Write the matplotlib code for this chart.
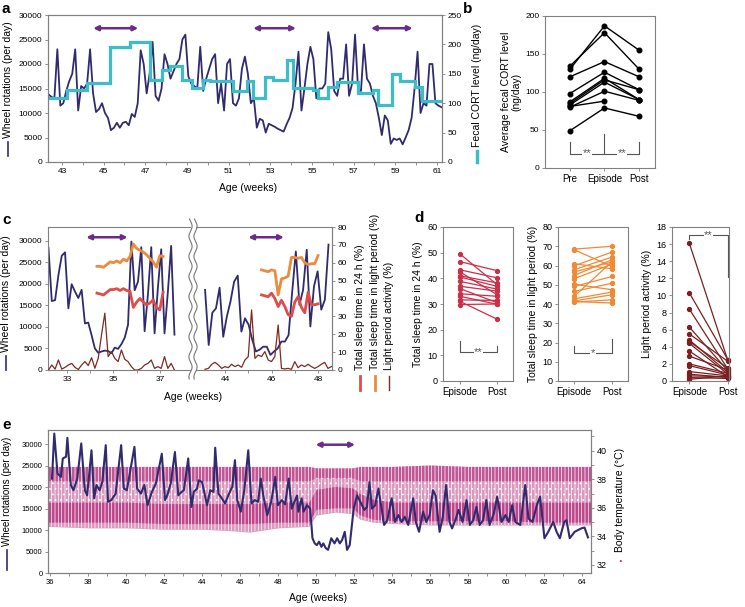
import numpy as np
import matplotlib
matplotlib.use('Agg')
import matplotlib.pyplot as plt
from matplotlib.lines import Line2D

plt.rcParams['font.family'] = ['Liberation Sans', 'DejaVu Sans']
plt.rcParams['hatch.linewidth'] = 0.5

# ---------------- data ----------------
# panel a: daily wheel rotations and fecal CORT (step) level
wheel_a = [13800, 13300, 13000, 23000, 11500, 12000, 14500, 16500, 18000, 23000,
           10500, 15500, 15000, 16000, 23000, 14000, 10200, 10800, 12000, 10000,
           9000, 6500, 7000, 8000, 7000, 8000, 8200, 7500, 9800, 9200,
           12000, 22800, 20000, 14000, 18000, 24500, 13500, 12500, 15000, 22000,
           20000, 17000, 18500, 20000, 21000, 25000, 26000, 17500, 16000, 15500,
           15000, 23500, 14500, 17000, 19000, 21000, 22000, 12000, 16000, 10500,
           20000, 21000, 12000, 11500, 13000, 19000, 21500, 18000, 12000, 13000,
           7000, 8800, 8500, 6000, 7800, 7500, 7200, 6800, 6500, 6200,
           7700, 9000, 11000, 16000, 22500, 10500, 15000, 20000, 23500, 21000,
           13000, 15000, 15000, 16000, 26500, 23000, 14500, 13500, 17000, 17000,
           24000, 13500, 16000, 26000, 15000, 14500, 24000, 17000, 16000, 13500,
           12000, 9000, 5500, 9500, 8500, 3700, 4800, 4500, 4800, 3600,
           5000, 6500, 9000, 15000, 22500, 10000, 12000, 11500, 20000, 20000,
           12000, 11500, 11200]
age_a = np.linspace(42.35, 61.21, len(wheel_a))
cort_edges_a = [42.34, 43.22, 44.22, 45.30, 46.26, 47.22, 47.78, 48.18, 48.74, 49.22,
                49.78, 50.10, 51.22, 51.86, 52.18, 52.74, 53.14, 53.78, 54.10, 55.06,
                55.30, 55.78, 56.18, 57.22, 57.94, 58.18, 58.82, 59.22, 59.94, 60.26, 61.22]
cort_a = [108, 123, 134, 195, 204, 139, 156, 163, 140, 126,
          140, 137, 120, 137, 109, 145, 140, 173, 126, 123,
          109, 128, 136, 117, 123, 97, 149, 137, 128, 103]
episodes_a = [(44.5, 46.66), (52.18, 54.23), (57.83, 59.83)]

# panel b: average fecal CORT per mouse
groups_b = ['Pre', 'Episode', 'Post']
pre_b = [130, 134, 120, 98, 87, 85, 83, 80, 81, 49]
episode_b = [187, 178, 140, 126, 118, 116, 113, 101, 88, 79]
post_b = [155, 130, 120, 103, 90, 103, 90, 89, np.nan, 68]

# panel c: two segments (before / after axis break)
wheel_c1 = [28300, 16000, 16200, 22000, 26500, 27300, 14300, 19900, 18200, 16700,
            18600, 10800, 11000, 8100, 5000, 4000, 4300, 4500, 4400, 3900,
            5200, 4900, 6000, 7500, 10500, 29800, 18500, 20500, 28500, 9000,
            17500, 28500, 8500, 19000, 28000, 8500, 18000, 28800, 8200]
age_c1 = np.linspace(32.2, 37.63, len(wheel_c1))
activity_c1 = [0, 2.8, 0.5, 5.6, 0.5, 1.5, 2.8, 3.7, 1.5, 0.3,
               2.8, 4.7, 2.5, 6.9, 1.0, 6.5, 19.6, 31.8, 7.5, 10.3,
               6.5, 4.7, 11.2, 6.0, 4.7, 1.9, 0, 0, 0.9, 2.8,
               3.7, 5.6, 0.9, 1.9, 0.9, 7.5, 0.9, 3.7, 0]
sleep_light_c1 = [58, 58, 57.5, 59, 60.5, 60, 61, 60, 62, 61, 63.5,
                  70.5, 68, 67, 66, 64.5, 62.5, 60.5, 57.5, 64, 63.5]
sleep_24h_c1 = [43, 42.5, 42, 43.5, 45, 45, 45.5, 44.5, 45.5, 44.5, 44,
                35, 38, 40, 38, 36.4, 37.5, 39.2, 35, 33.6, 43.5]
age_sleep_c1 = np.linspace(34.29, 37.14, len(sleep_light_c1))

wheel_c2 = [18600, 5800, 13300, 14300, 19100, 7700, 12400, 15900, 20500, 21900,
            8900, 12000, 10500, 7000, 4300, 4700, 5400, 5400, 3500, 4300,
            5000, 6600, 6600, 8100, 18200, 27500, 15100, 18600, 27900, 10100,
            19400, 22900, 14000, 16300, 29100]
age_c2 = np.linspace(43.14, 48.45, len(wheel_c2))
activity_c2 = [0.4, 0.9, 3.2, 4.3, 2.8, 0.9, 1.9, 1.3, 3.2, 1.9,
               2.8, 1.5, 5.6, 7.5, 33.6, 6.5, 8.4, 7.5, 10.3, 5.6,
               4.7, 7.5, 25.2, 0.9, 0.6, 0.9, 0.4, 4.7, 1.3, 2.8,
               1.9, 3.2, 1.9, 0.9, 1.9, 3.2, 4.3, 0.9, 1.9]
age_act_c2 = np.linspace(43.14, 48.57, len(activity_c2))
sleep_light_c2 = [56, 55.5, 55, 56, 55.5, 42, 51, 51.5, 52.5, 63,
                  63, 62.5, 63, 60, 59, 59.5, 59.5, 64]
sleep_24h_c2 = [42, 41.5, 41, 43, 40, 35.5, 39, 35.5, 31, 30,
                38, 41, 35, 32, 43.5, 36.5, 36.5, 37]
age_sleep_c2 = np.linspace(45.57, 48.0, len(sleep_light_c2))
episodes_c = [(33.83, 35.61), (45.0, 46.53)]

# panel d: Episode vs Post per mouse
phases_d = ['Episode', 'Post']
sleep24_ep = [49.5, 46.5, 43.3, 42.5, 41.0, 40.5, 38.8, 36.9, 36.0, 34.0, 33.0, 31.6, 31.0, 29.8]
sleep24_post = [37.5, 43.0, 40.2, 33.6, 38.2, 36.9, 35.8, 35.0, 30.5, 33.0, 29.9, 31.4, 24.1, 30.0]
sleeplight_ep = [68.2, 68.5, 60.9, 59.8, 57.8, 56.6, 54.8, 53.1, 50.3, 49.1, 46.5, 43.9, 42.7, 41.6, 41.0, 41.3]
sleeplight_post = [59.5, 70.0, 58.3, 67.0, 64.4, 61.8, 63.0, 60.7, 47.4, 54.3, 50.8, 62.0, 46.2, 44.8, 42.2, 40.5]
lightact_ep = [16.1, 10.3, 8.4, 6.3, 5.5, 4.8, 4.6, 4.4, 3.5, 2.9, 2.0, 1.8, 1.1, 0.8, 0.6, 0.4, 0.2]
lightact_post = [2.4, 2.5, 1.4, 1.2, 2.3, 1.0, 1.5, 0.8, 0.5, 1.3, 0.9, 0.7, 0.6, 0.4, 0.5, 0.3, 0.6]

# panel e: wheel rotations (peaks / troughs) and body temperature envelope
age_e = [36.09, 36.21, 36.38, 36.56, 36.66, 36.83, 36.90, 37.08, 37.22, 37.42,
         37.63, 37.82, 37.94, 38.17, 38.31, 38.43, 38.60, 38.74, 38.92, 39.04,
         39.21, 39.44, 39.73, 39.87, 40.03, 40.17, 40.43, 40.57, 40.77, 40.95,
         41.12, 41.35, 41.56, 41.87, 42.04, 42.16, 42.34, 42.56, 42.74, 42.91,
         43.03, 43.26, 43.43, 43.55, 43.73, 43.81, 43.99, 44.25, 44.42, 44.59,
         44.68, 44.85, 45.03, 45.20, 45.37, 45.58, 45.72, 45.84, 46.03, 46.21,
         46.42, 46.59, 46.76, 46.94, 47.08, 47.22, 47.42, 47.63, 47.84,
         47.98, 48.19, 48.36, 48.55, 48.71, 48.85, 48.99, 49.06, 49.23, 49.33,
         49.51, 49.68, 49.80, 49.92, 50.03, 50.15, 50.27, 50.37, 50.5, 50.62,
         50.79, 50.96, 51.1, 51.24, 51.36, 51.5, 51.62, 51.76, 51.97, 52.15,
         52.32, 52.53, 52.67, 52.8, 52.93, 53.1, 53.27, 53.45, 53.57, 53.74,
         53.97, 54.14, 54.32, 54.49, 54.66, 54.84, 55.1, 55.24, 55.41, 55.62,
         55.79, 55.97, 56.14, 56.28, 56.49, 56.66, 56.83, 57.01, 57.15, 57.35,
         57.49, 57.7, 57.91, 58.08, 58.26, 58.43, 58.6, 58.78, 58.95, 59.12,
         59.35, 59.52, 59.75, 59.96, 60.13, 60.31, 60.48, 60.74, 61.0, 61.17,
         61.38, 61.61, 61.78, 62.01, 62.21, 62.47, 62.65, 62.82, 63.05, 63.17,
         63.34, 63.6, 63.78, 63.95, 64.12, 64.3]
wheel_e = [22000, 32500, 23200, 22400, 26700, 27100, 31500, 20500, 19300, 22000,
           30200, 19300, 18100, 28600, 17400, 20500, 19300, 21200, 29800, 16600,
           17000, 18500, 29800, 19700, 19300, 22800, 29400, 19700, 18500, 20500,
           15800, 18900, 20900, 27800, 17000, 18100, 20900, 28200, 18100, 18900,
           19300, 26700, 15400, 18900, 19700, 21600, 21200, 15800, 19300, 18900,
           29200, 18500, 17400, 16200, 18100, 20100, 26300, 17000, 14300, 19300,
           28600, 16200, 17000, 16600, 22000, 17800, 13500, 16600, 22400,
           15800, 17000, 16000, 22000, 15000, 16600, 18100, 14300, 17400, 14300,
           15800, 15000, 8100, 6900, 6500, 7300, 6100, 6900, 5800, 5400,
           8100, 6900, 8100, 6900, 7700, 9600, 5400, 6500, 15000, 18100,
           16600, 14700, 15400, 21200, 15000, 15800, 19700, 14700, 11200, 12300,
           17400, 11900, 13500, 11900, 13100, 11200, 17400, 11900, 9600, 14300,
           11900, 13500, 19300, 18100, 9600, 13100, 20500, 11900, 10400, 12700,
           14700, 11900, 17000, 11200, 12300, 15400, 11200, 12300, 17000, 11200,
           13900, 17800, 11900, 13500, 11900, 15800, 11900, 11200, 20500, 12700,
           11900, 15800, 17800, 8100, 9600, 11900, 9600, 8100, 11900, 12300,
           8100, 9600, 10000, 10400, 10600, 8300]
temp_wk = [35.88, 38, 40, 42, 44, 45.5, 46.5, 48, 49.6, 50.0,
           51.0, 51.9, 52.3, 53.0, 54, 56, 58, 60, 62, 64.46]
temp_hi = [38.9, 38.9, 38.9, 38.9, 38.9, 38.9, 38.9, 38.9, 38.9, 38.8,
           38.8, 38.8, 38.9, 38.9, 38.9, 39.0, 38.9, 38.9, 38.9, 38.9]
temp_lo = [34.7, 34.6, 34.6, 34.5, 34.5, 34.4, 34.3, 34.6, 34.7, 35.5,
           35.7, 35.6, 35.2, 35.0, 34.9, 34.8, 34.8, 34.8, 34.8, 34.8]
temp_day_lo = [35.0, 35.0, 35.0, 34.9, 34.9, 34.9, 34.9, 35.0, 35.0, 35.9,
               36.0, 36.0, 35.5, 35.2, 35.1, 35.1, 35.1, 35.1, 35.0, 35.0]
temp_day_hi = [36.4, 36.4, 36.4, 36.3, 36.3, 36.3, 36.3, 36.4, 36.4, 37.3,
               37.5, 37.4, 37.0, 36.6, 36.4, 36.4, 36.4, 36.4, 36.4, 36.4]
temp_night_lo = [37.9, 37.9, 37.9, 37.9, 37.9, 37.9, 37.9, 37.9, 37.9, 38.1,
                 38.1, 38.1, 37.9, 37.9, 37.9, 37.9, 37.9, 37.9, 37.9, 37.9]
episode_e = (49.97, 52.04)

# ---------------- style ----------------
NAVY = '#302b6f'
CYAN = '#3dbdc9'
PURPLE = '#6a2b8b'
ORANGE = '#ec8b3b'
RED = '#df4c4a'
BROWN = '#7b2c22'
D_RED = '#c9304a'
D_ORANGE = '#ee8a35'
D_BROWN = '#7a2020'
MAGENTA = '#b8327e'
SPINE = '#808080'
SIG = '#555555'

W, H = 745, 607
fig = plt.figure(figsize=(W / 100, H / 100), dpi=100)


def px_axes(x0, y0, x1, y1):
    return fig.add_axes([x0 / W, 1 - y1 / H, (x1 - x0) / W, (y1 - y0) / H])


def style(ax, ls=6):
    for s in ax.spines.values():
        s.set_color(SPINE)
        s.set_linewidth(0.8)
    ax.tick_params(colors=SPINE, labelcolor='black', labelsize=ls, length=2.5,
                   width=0.6, direction='out', pad=1.5)


def side_label(x, y_bottom, text, color, lw, dash=(5, 18), size=7.5, dot=False):
    fig.text(x / W, 1 - y_bottom / H, text, rotation=90, ha='center', va='bottom',
             fontsize=size)
    if dot:
        fig.text(x / W, 1 - (y_bottom + dash[0] + 3) / H, '.', color=color,
                 ha='center', va='center', fontsize=9, fontweight='bold')
    else:
        fig.add_artist(Line2D([x / W, x / W],
                              [1 - (y_bottom + dash[0]) / H, 1 - (y_bottom + dash[1]) / H],
                              transform=fig.transFigure, color=color, lw=lw))


def arrow(ax, x0, x1, y):
    ax.annotate('', xy=(x1, y), xytext=(x0, y),
                arrowprops=dict(arrowstyle='<|-|>', color=PURPLE, lw=1.8,
                                mutation_scale=7, shrinkA=0, shrinkB=0))


def bracket(ax, xs, ys, label, ty):
    ax.plot(xs, ys, color=SIG, lw=0.8, clip_on=False)
    if label:
        ax.text((xs[0] + xs[-1]) / 2, ty, label, ha='center', va='center', color=SIG,
                fontsize=8, bbox=dict(facecolor='white', edgecolor='none', pad=0.3))


def letter(x, y, s):
    fig.text(x / W, 1 - y / H, s, fontsize=11, fontweight='bold', va='center', ha='left')


# ---------------- panel a ----------------
ax_a = px_axes(48, 15, 442, 162)
ax_a.plot(age_a, wheel_a, color=NAVY, lw=1.3)
ax_a.set_xlim(42.33, 61.24)
ax_a.set_ylim(0, 30000)
ax_a.set_yticks(range(0, 30001, 5000))
ax_a.set_xticks(range(43, 62))
ax_a.set_xticklabels([str(w) if w % 2 else '' for w in range(43, 62)])
style(ax_a)
for s, e in episodes_a:
    arrow(ax_a, s, e, 27300)
ax_a2 = ax_a.twinx()
ax_a2.stairs(cort_a, cort_edges_a, color=CYAN, lw=2.3, baseline=None)
ax_a2.set_ylim(0, 250)
ax_a2.set_yticks(range(0, 251, 50))
style(ax_a2)
fig.text(248 / W, 1 - 188 / H, 'Age (weeks)', ha='center', va='center', fontsize=7.5)
side_label(8, 138, 'Wheel rotations (per day)', NAVY, 1.2, dash=(4, 18))
side_label(477, 147, 'Fecal CORT level (ng/day)', CYAN, 2.5, dash=(4, 15))
letter(2, 9, 'a')

# ---------------- panel b ----------------
ax_b = px_axes(545, 16, 655, 168)
for p, e, q in zip(pre_b, episode_b, post_b):
    ax_b.plot([0, 1, 2], [p, e, q], '-o', color='black', ms=3.3, lw=1.0)
ax_b.set_xlim(-0.72, 2.46)
ax_b.set_ylim(0, 200)
ax_b.set_yticks(range(0, 201, 50))
ax_b.set_xticks([0, 1, 2])
ax_b.set_xticklabels(groups_b)
style(ax_b)
ax_b.tick_params(axis='x', labelsize=7)
bracket(ax_b, [0, 0, 1], [34, 19, 19], '', 19)
bracket(ax_b, [1, 1, 2, 2], [45, 19, 19, 34], '', 19)
for xm in (0.5, 1.5):
    ax_b.text(xm, 19, '**', ha='center', va='center', color=SIG, fontsize=8,
              bbox=dict(facecolor='white', edgecolor='none', pad=0.3))
ax_b.set_ylabel('Average fecal CORT level\n(ng/day)', fontsize=7.5, linespacing=1.0, labelpad=3)
letter(463, 9, 'b')

# ---------------- panel c ----------------
ax_c1 = px_axes(48, 227, 190, 370)
ax_c2 = px_axes(196, 227, 332, 370)
ax_c1.plot(age_c1, wheel_c1, color=NAVY, lw=1.3)
ax_c2.plot(age_c2, wheel_c2, color=NAVY, lw=1.3)
ax_c1.set_xlim(32.18, 38.3)
ax_c2.set_xlim(42.75, 48.6)
for ax in (ax_c1, ax_c2):
    ax.set_ylim(0, 33180)
    style(ax)
ax_c1.set_yticks(range(0, 30001, 5000))
ax_c2.set_yticks([])
ax_c1.spines['right'].set_visible(False)
ax_c2.spines['left'].set_visible(False)
ax_c1.set_xticks(range(33, 38))
ax_c1.set_xticklabels([str(w) if w % 2 else '' for w in range(33, 38)])
ax_c2.set_xticks(range(44, 49))
ax_c2.set_xticklabels([str(w) if w % 2 == 0 else '' for w in range(44, 49)])
arrow(ax_c1, episodes_c[0][0], episodes_c[0][1], 30800)
arrow(ax_c2, episodes_c[1][0], episodes_c[1][1], 30800)

ax_c1r = ax_c1.twinx()
ax_c2r = ax_c2.twinx()
ax_c1r.plot(age_c1, activity_c1, color=BROWN, lw=0.9)
ax_c1r.plot(age_sleep_c1, sleep_light_c1, color=ORANGE, lw=2.0)
ax_c1r.plot(age_sleep_c1, sleep_24h_c1, color=RED, lw=2.0)
ax_c2r.plot(age_act_c2, activity_c2, color=BROWN, lw=0.9)
ax_c2r.plot(age_sleep_c2, sleep_light_c2, color=ORANGE, lw=2.0)
ax_c2r.plot(age_sleep_c2, sleep_24h_c2, color=RED, lw=2.0)
for ax in (ax_c1r, ax_c2r):
    ax.set_ylim(0, 80)
    style(ax)
    for s in ax.spines.values():
        s.set_visible(False)
ax_c1r.set_yticks([])
ax_c2r.spines['right'].set_visible(True)
ax_c2r.set_yticks(range(0, 81, 10))

# axis break (double wavy line)
yy = np.linspace(219, 379, 300)
for xc in (190.5, 195.5):
    xx = xc + 1.6 * np.sin(yy / 3.2)
    fig.add_artist(Line2D(xx / W, 1 - yy / H, transform=fig.transFigure,
                          color='#777777', lw=0.8))
fig.text(193 / W, 1 - 397 / H, 'Age (weeks)', ha='center', va='center', fontsize=7.5)
side_label(6, 352, 'Wheel rotations (per day)', NAVY, 1.2, dash=(4, 18))
side_label(360, 370, 'Total sleep time in 24 h (%)', RED, 2.0, dash=(6, 20))
side_label(375, 370, 'Total sleep time in light period (%)', ORANGE, 2.0, dash=(6, 20))
side_label(389, 370, 'Light period activity (%)', BROWN, 1.0, dash=(6, 20))
letter(2, 220, 'c')

# ---------------- panel d ----------------
ax_d1 = px_axes(443, 227, 513, 381)
ax_d2 = px_axes(558, 227, 628, 381)
ax_d3 = px_axes(672, 227, 729, 381)
for e, p in zip(sleep24_ep, sleep24_post):
    ax_d1.plot([0, 1], [e, p], '-o', color=D_RED, ms=2.8, lw=0.9)
for e, p in zip(sleeplight_ep, sleeplight_post):
    ax_d2.plot([0, 1], [e, p], '-o', color=D_ORANGE, ms=2.8, lw=0.9)
for e, p in zip(lightact_ep, lightact_post):
    ax_d3.plot([0, 1], [e, p], '-o', color=D_BROWN, ms=2.8, lw=0.9, clip_on=False)
ax_d1.set_xlim(-0.46, 1.43)
ax_d1.set_ylim(0, 60)
ax_d1.set_yticks(range(0, 61, 10))
ax_d2.set_xlim(-0.42, 1.42)
ax_d2.set_ylim(0, 80)
ax_d2.set_yticks(range(0, 81, 10))
ax_d3.set_xlim(-0.45, 1.03)
ax_d3.set_ylim(0, 18)
ax_d3.set_yticks(range(0, 19, 2))
for ax, lab in ((ax_d1, 'Total sleep time in 24 h (%)'),
                (ax_d2, 'Total sleep time in light period (%)'),
                (ax_d3, 'Light period activity (%)')):
    ax.set_xticks([0, 1])
    ax.set_xticklabels(phases_d)
    style(ax, 6.5)
    ax.tick_params(axis='x', labelsize=7)
    ax.set_ylabel(lab, fontsize=7.5, labelpad=3)
bracket(ax_d1, [0, 0, 1, 1], [15.7, 11.2, 11.2, 13.8], '**', 11.2)
bracket(ax_d2, [0, 0, 1, 1], [18.4, 14.4, 14.4, 21.6], '*', 14.4)
bracket(ax_d3, [0, 0, 1, 1], [16.6, 17.1, 17.1, 12.1], '**', 17.1)
letter(414, 218, 'd')

# ---------------- panel e ----------------
ax_e = px_axes(48, 430, 591, 573)
ax_e2 = ax_e.twinx()
ax_e.set_zorder(ax_e2.get_zorder() + 1)
ax_e.patch.set_visible(False)
ax_e2.fill_between(temp_wk, temp_lo, temp_hi, color=MAGENTA, alpha=0.5, lw=0)
ax_e2.fill_between(temp_wk, temp_day_lo, temp_day_hi, color=MAGENTA, alpha=0.8, lw=0)
ax_e2.fill_between(temp_wk, temp_night_lo, temp_hi, color=MAGENTA, alpha=0.65, lw=0)
# thin white vertical hatch for the per-day columns, dots for the sparse middle
ax_e2.fill_between(temp_wk, temp_lo, temp_hi, facecolor='none', edgecolor='white',
                   hatch='|||||', lw=0)
ax_e2.fill_between(temp_wk, temp_day_hi, temp_night_lo, facecolor='none',
                   edgecolor='white', hatch='...', lw=0)
ax_e2.set_ylim(31.44, 41.45)
ax_e2.set_yticks(range(32, 41, 2))
ax_e2.set_yticks(range(32, 42), minor=True)
ax_e.plot(age_e, wheel_e, color=NAVY, lw=1.5)
ax_e.set_xlim(35.88, 64.46)
ax_e.set_ylim(0, 33330)
ax_e.set_yticks(range(0, 30001, 5000))
ax_e.set_xticks(range(36, 65))
ax_e.set_xticklabels([str(w) if w % 2 == 0 else '' for w in range(36, 65)])
style(ax_e, 5.5)
style(ax_e2, 6.5)
ax_e2.tick_params(which='minor', length=2.5, color=SPINE, width=0.6)
arrow(ax_e, episode_e[0], episode_e[1], 29900)
fig.text(318 / W, 1 - 598 / H, 'Age (weeks)', ha='center', va='center', fontsize=7.5)
side_label(7, 546, 'Wheel rotations (per day)', NAVY, 1.2, dash=(4, 24), size=7)
side_label(620, 552, 'Body temperature (°C)', MAGENTA, 1.2, dash=(4, 8), dot=True)
letter(2, 425, 'e')

fig.savefig('out.png', dpi=100)
